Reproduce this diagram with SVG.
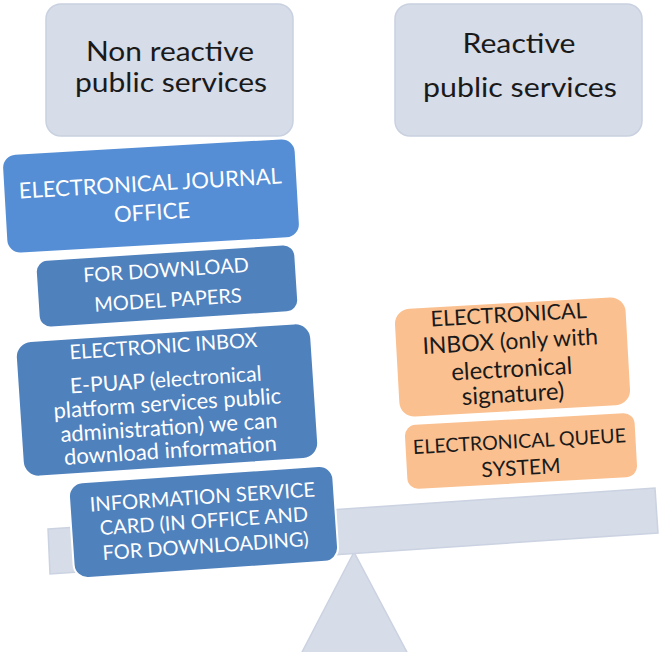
<svg xmlns="http://www.w3.org/2000/svg" width="660" height="652" viewBox="0 0 660 652">
<style>
text{font-family:Lato,"Liberation Sans",sans-serif;text-anchor:middle}
.hdr{fill:#d6dce8;stroke:#c9d1e0;stroke-width:1.5}
.ht{font-size:27px;fill:#1a1a1a}
.b1{fill:#558ed5;stroke:#ffffff;stroke-width:2}
.b2{fill:#4f81bd;stroke:#ffffff;stroke-width:2}
.or{fill:#fac090;stroke:#ffffff;stroke-width:2}
.wt{fill:#ffffff}
.bt{fill:#1a1a1a}
.gray{fill:#d6dce8;stroke:#cbd2e1;stroke-width:1.5}
</style>
<rect width="660" height="652" fill="#ffffff"/>
<g id="hdr-nonreactive">
<rect class="hdr" x="46" y="4" width="247" height="132" rx="15"/>
<text class="ht" x="170" y="61" textLength="168" lengthAdjust="spacingAndGlyphs">Non reactive</text>
<text class="ht" x="171" y="92" textLength="192" lengthAdjust="spacingAndGlyphs">public services</text>
</g>
<g id="hdr-reactive">
<rect class="hdr" x="395" y="4" width="247" height="132" rx="15"/>
<text class="ht" x="519" y="53" textLength="113" lengthAdjust="spacingAndGlyphs">Reactive</text>
<text class="ht" x="520" y="97" textLength="194" lengthAdjust="spacingAndGlyphs">public services</text>
</g>
<g id="scale">
<polygon class="gray" points="354,552 300,656 409,656"/>
<polygon class="gray" points="48,529 655,488 658,533 50,574"/>
</g>
<g id="journal" transform="rotate(-3.3 151 196)">
<rect class="b1" x="4" y="146" width="294" height="100" rx="14"/>
<text class="wt" x="151" y="191" font-size="22">ELECTRONICAL JOURNAL</text>
<text class="wt" x="151" y="220" font-size="22">OFFICE</text>
</g>
<g id="model-papers" transform="rotate(-3.7 167 286)">
<rect class="b2" x="37" y="252" width="260" height="68" rx="12"/>
<text class="wt" x="167" y="277" font-size="20">FOR DOWNLOAD</text>
<text class="wt" x="167" y="307" font-size="20">MODEL PAPERS</text>
</g>
<g id="inbox" transform="rotate(-3.8 167 400)">
<rect class="b2" x="19" y="332" width="296" height="136" rx="16"/>
<text class="wt" x="167" y="353" font-size="20">ELECTRONIC INBOX</text>
<text class="wt" x="167" y="387" font-size="21.2">E-PUAP (electronical</text>
<text class="wt" x="167" y="411" font-size="22">platform services public</text>
<text class="wt" x="167" y="435" font-size="22">administration) we can</text>
<text class="wt" x="167" y="458" font-size="22">download information</text>
</g>
<g id="info-card" transform="rotate(-3.9 204 522)">
<rect class="b2" x="71" y="474" width="265" height="96" rx="14"/>
<text class="wt" x="204" y="504" font-size="20.2">INFORMATION SERVICE</text>
<text class="wt" x="204" y="528" font-size="20">CARD (IN OFFICE AND</text>
<text class="wt" x="204" y="553" font-size="20">FOR DOWNLOADING)</text>
</g>
<g id="e-inbox-signature" transform="rotate(-3.2 513 357)">
<rect class="or" x="396" y="302" width="233" height="110" rx="16"/>
<text class="bt" x="511" y="322" font-size="21.6">ELECTRONICAL</text>
<text class="bt" x="511" y="349" font-size="23">INBOX (only with</text>
<text class="bt" x="511" y="377" font-size="24">electronical</text>
<text class="bt" x="511" y="402" font-size="24">signature)</text>
</g>
<g id="queue" transform="rotate(-3.2 521 451)">
<rect class="or" x="405" y="418" width="232" height="66" rx="12"/>
<text class="bt" x="520" y="448" font-size="19.6">ELECTRONICAL QUEUE</text>
<text class="bt" x="520" y="475" font-size="21">SYSTEM</text>
</g>
</svg>
